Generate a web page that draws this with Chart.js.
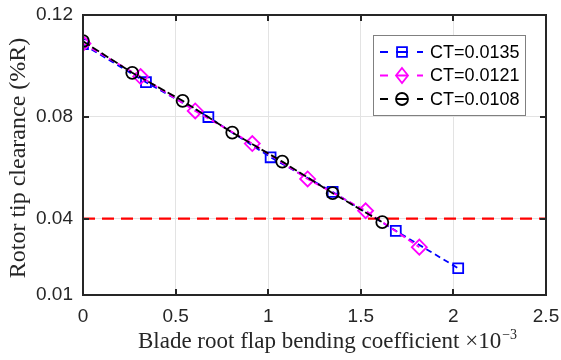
<!DOCTYPE html>
<html>
<head>
<meta charset="utf-8">
<script src="https://cdn.jsdelivr.net/npm/chart.js@4.4.1/dist/chart.umd.min.js"></script>
<style>
  html, body { margin: 0; padding: 0; background: #fff; }
  #wrap { width: 561px; height: 360px; }
</style>
</head>
<body>
<div id="wrap"><canvas id="c" width="561" height="360"></canvas></div>
<script>
// values (x in units of 1e-3)
const ct0135X = [0, 0.340, 0.677, 1.013, 1.348, 1.689, 2.026];
const ct0135Y = [0.1085, 0.0936, 0.0799, 0.0641, 0.0505, 0.0352, 0.0205];
const ct0121X = [0, 0.311, 0.606, 0.914, 1.213, 1.526, 1.816];
const ct0121Y = [0.1088, 0.0958, 0.0823, 0.0695, 0.0556, 0.0431, 0.0288];
const ct0108X = [0, 0.266, 0.538, 0.806, 1.076, 1.348, 1.616];
const ct0108Y = [0.1097, 0.0973, 0.0863, 0.0738, 0.0624, 0.0500, 0.0386];
const limitX = [0, 2.5];
const limitY = [0.04, 0.04];

const seriesLabels = ['CT=0.0135', 'CT=0.0121', 'CT=0.0108'];
const yTickValues = [0.01, 0.04, 0.08, 0.12];
const xTitle = 'Blade root flap bending coefficient ×10';
const xTitleExp = '−3';
const yTitle = 'Rotor tip clearance (%R)';

const sansFont = '"Liberation Sans", Arial, Helvetica, sans-serif';
const serifFont = '"Liberation Serif", "Times New Roman", serif';

const toPoints = (xs, ys) => xs.map((x, i) => ({ x, y: ys[i] }));

const series = [
  { color: '#0000ff', style: 'rect', radius: 7, dash: [6, 4] },
  { color: '#ff00ff', style: 'rectRot', radius: 7.5, dash: [6, 4] },
  { color: '#000000', style: 'circle', radius: 6, dash: [8, 3] },
];

function drawMarker(ctx, style, x, y, r) {
  ctx.beginPath();
  if (style === 'rect') {
    const s = r * Math.SQRT1_2;
    ctx.rect(x - s, y - s, 2 * s, 2 * s);
  } else if (style === 'rectRot') {
    ctx.moveTo(x, y - r);
    ctx.lineTo(x + r * 0.8, y);
    ctx.lineTo(x, y + r);
    ctx.lineTo(x - r * 0.8, y);
    ctx.closePath();
  } else {
    ctx.arc(x, y, r, 0, Math.PI * 2);
  }
  ctx.stroke();
}

const framePlugin = {
  id: 'frame',
  afterDraw(chart) {
    const { ctx, chartArea: a, scales } = chart;
    ctx.save();

    // inward ticks on all four sides
    ctx.strokeStyle = '#262626';
    ctx.lineWidth = 2;
    ctx.beginPath();
    [0.5, 1, 1.5, 2].forEach((v) => {
      const px = Math.round(scales.x.getPixelForValue(v));
      ctx.moveTo(px, a.bottom); ctx.lineTo(px, a.bottom - 6);
      ctx.moveTo(px, a.top); ctx.lineTo(px, a.top + 6);
    });
    [0.04, 0.08].forEach((v) => {
      const py = Math.round(scales.y.getPixelForValue(v));
      ctx.moveTo(a.left, py); ctx.lineTo(a.left + 6, py);
      ctx.moveTo(a.right, py); ctx.lineTo(a.right - 6, py);
    });
    ctx.stroke();

    // box
    ctx.strokeRect(a.left, a.top, a.right - a.left, a.bottom - a.top);

    // legend
    const lx = 373.5, ly = 35.5, lw = 152, lh = 80;
    ctx.fillStyle = '#fff';
    ctx.fillRect(lx, ly, lw, lh);
    ctx.strokeStyle = '#808080';
    ctx.lineWidth = 1;
    ctx.strokeRect(lx, ly, lw, lh);
    const rows = [52, 75.5, 99];
    series.forEach((s, i) => {
      const y = rows[i];
      ctx.strokeStyle = s.color;
      ctx.lineWidth = 1.8;
      ctx.beginPath();
      ctx.moveTo(380, y); ctx.lineTo(388, y);
      ctx.moveTo(396, y); ctx.lineTo(408, y);
      ctx.moveTo(417, y); ctx.lineTo(423, y);
      ctx.stroke();
      drawMarker(ctx, s.style, 402, y, s.radius);
      ctx.fillStyle = '#000';
      ctx.font = '18px ' + sansFont;
      ctx.textAlign = 'left';
      ctx.textBaseline = 'middle';
      ctx.fillText(seriesLabels[i], 430, y + 1);
    });

    // axis titles
    ctx.fillStyle = '#262626';
    ctx.font = '23px ' + serifFont;
    const mainW = ctx.measureText(xTitle).width;
    ctx.font = '14px ' + serifFont;
    const expW = ctx.measureText(xTitleExp).width;
    const startX = 327 - (mainW + expW) / 2;
    ctx.textAlign = 'left';
    ctx.textBaseline = 'alphabetic';
    ctx.font = '23px ' + serifFont;
    ctx.fillText(xTitle, startX, 348);
    ctx.font = '14px ' + serifFont;
    ctx.fillText(xTitleExp, startX + mainW + 1, 339);

    ctx.translate(19, 158);
    ctx.rotate(-Math.PI / 2);
    ctx.font = '24px ' + serifFont;
    ctx.textAlign = 'center';
    ctx.textBaseline = 'middle';
    ctx.fillText(yTitle, 0, 0);
    ctx.restore();
  },
};

const lineDataset = (i, xs, ys, order) => ({
  label: seriesLabels[i],
  data: toPoints(xs, ys),
  borderColor: series[i].color,
  backgroundColor: 'rgba(0,0,0,0)',
  borderWidth: 1.8,
  borderDash: series[i].dash,
  pointStyle: series[i].style,
  pointRadius: series[i].radius,
  pointBorderWidth: 1.8,
  pointBorderColor: series[i].color,
  pointBackgroundColor: 'rgba(0,0,0,0)',
  tension: 0,
  order,
});

new Chart(document.getElementById('c'), {
  type: 'line',
  data: {
    datasets: [
      lineDataset(0, ct0135X, ct0135Y, 3),
      lineDataset(1, ct0121X, ct0121Y, 2),
      lineDataset(2, ct0108X, ct0108Y, 1),
      {
        label: 'limit',
        data: toPoints(limitX, limitY),
        borderColor: '#ff0000',
        borderWidth: 2.2,
        borderDash: [12, 7],
        pointRadius: 0,
        order: 4,
      },
    ],
  },
  options: {
    responsive: false,
    devicePixelRatio: 1,
    animation: false,
    layout: { padding: { top: 15, right: 15, left: 0, bottom: 0 } },
    plugins: { legend: { display: false }, tooltip: { enabled: false } },
    scales: {
      x: {
        type: 'linear',
        min: 0,
        max: 2.5,
        ticks: {
          stepSize: 0.5, color: '#262626', font: { size: 19, family: sansFont }, padding: 10, maxRotation: 0,
          callback: (v) => String(Number(v.toFixed(2))),
        },
        grid: { color: '#e3e3e3', lineWidth: 1, drawTicks: false },
        border: { display: true, color: '#262626', width: 2 },
        afterFit: (scale) => { scale.height = 65; scale.paddingLeft = 0; scale.paddingRight = 0; },
      },
      y: {
        type: 'linear',
        min: 0.01,
        max: 0.12,
        afterBuildTicks: (scale) => { scale.ticks = yTickValues.map((v) => ({ value: v })); },
        ticks: { color: '#262626', font: { size: 19, family: sansFont }, padding: 10, callback: (v) => v.toFixed(2) },
        grid: { color: '#e3e3e3', lineWidth: 1, drawTicks: false },
        border: { display: true, color: '#262626', width: 2 },
        afterFit: (scale) => { scale.width = 83; scale.paddingTop = 0; scale.paddingBottom = 0; },
      },
    },
  },
  plugins: [framePlugin],
});
</script>
</body>
</html>
